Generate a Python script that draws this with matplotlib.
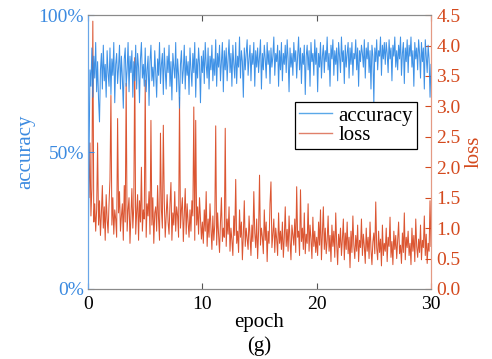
import numpy as np
import matplotlib
matplotlib.use("Agg")
import matplotlib.pyplot as plt
from matplotlib.lines import Line2D

# accuracy (%) per step, 12 steps per epoch
accuracy = [
    5, 48, 80, 74, 88, 70, 85, 77, 90, 72, 83, 69,
    61, 80, 86, 73, 89, 76, 82, 70, 87, 79, 74, 88,
    71, 84, 78, 90, 68, 82, 86, 75, 81, 89, 73, 85,
    77, 66, 84, 88, 74, 80, 90, 72, 85, 79, 87, 70,
    83, 76, 89, 73, 86, 81, 68, 84, 90, 77, 82, 74,
    88, 72, 80, 85, 67, 83, 89, 76, 81, 74, 87, 79,
    70, 84, 78, 90, 75, 82, 86, 71, 88, 80, 73, 85,
    79, 89, 74, 83, 69, 86, 81, 77, 90, 72, 84, 78,
    66, 82, 87, 75, 80, 89, 73, 85, 78, 83, 71, 88,
    80, 74, 86, 79, 90, 70, 84, 77, 88, 82, 68, 85,
    79, 87, 75, 90, 82, 77, 88, 73, 85, 80, 89, 76,
    84, 78, 91, 74, 86, 81, 89, 76, 83, 90, 72, 87,
    80, 88, 76, 84, 91, 79, 86, 74, 89, 82, 77, 90,
    75, 85, 81, 92, 77, 87, 83, 70, 88, 80, 86, 91,
    78, 84, 89, 76, 86, 82, 90, 74, 87, 81, 88, 79,
    85, 91, 73, 86, 80, 89, 84, 77, 90, 82, 87, 75,
    88, 81, 85, 92, 78, 86, 83, 89, 74, 87, 80, 90,
    76, 86, 82, 89, 79, 91, 84, 72, 88, 81, 86, 78,
    90, 83, 87, 77, 85, 92, 80, 88, 75, 86, 82, 89,
    71, 85, 89, 80, 87, 74, 90, 83, 86, 78, 91, 82,
    88, 72, 86, 81, 90, 77, 85, 89, 79, 87, 83, 92,
    80, 86, 74, 89, 84, 91, 78, 87, 82, 88, 76, 90,
    85, 79, 92, 83, 87, 75, 89, 81, 86, 90, 77, 88,
    82, 90, 78, 86, 84, 91, 80, 88, 74, 87, 83, 89,
    86, 81, 91, 77, 88, 84, 90, 79, 87, 73, 89, 85,
    68, 88, 83, 91, 80, 87, 85, 92, 78, 89, 84, 90,
    82, 90, 86, 79, 91, 84, 88, 76, 89, 85, 92, 81,
    87, 80, 89, 84, 92, 78, 86, 90, 75, 88, 83, 91,
    79, 89, 85, 92, 81, 87, 74, 90, 84, 88, 80, 91,
    86, 77, 90, 83, 88, 73, 91, 85, 79, 89, 84, 70,
    82,
]

# loss (x0.01) per step, 12 steps per epoch
loss_centi = [
    195, 150, 240, 120, 165, 440, 110, 140, 95, 130, 240, 105,
    145, 88, 125, 170, 100, 135, 80, 155, 115, 92, 140, 180,
    318, 105, 150, 90, 130, 115, 85, 280, 125, 160, 95, 120,
    140, 80, 170, 110, 338, 95, 130, 150, 75, 120, 165, 100,
    135, 380, 90, 125, 155, 80, 145, 110, 200, 95, 130, 115,
    343, 85, 140, 120, 160, 90, 277, 105, 150, 75, 125, 135,
    95, 170, 115, 80, 256, 130, 100, 269, 145, 85, 120, 155,
    110, 90, 140, 175, 80, 125, 105, 160, 95, 135, 120, 85,
    315, 100, 130, 150, 78, 120, 165, 90, 140, 110, 85, 130,
    95, 145, 120, 299, 80, 277, 105, 135, 90, 150, 115, 82,
    110, 75, 130, 95, 160, 70, 115, 85, 140, 100, 65, 120,
    80, 105, 268, 72, 125, 90, 60, 110, 150, 78, 100, 85,
    264, 70, 115, 90, 135, 62, 100, 80, 55, 120, 88, 180,
    75, 95, 60, 130, 85, 110, 48, 90, 145, 70, 100, 82,
    65, 120, 88, 55, 105, 78, 160, 92, 68, 115, 50, 95,
    187, 72, 100, 85, 58, 130, 80, 110, 45, 95, 75, 140,
    176, 68, 90, 115, 60, 100, 82, 55, 125, 75, 95, 65,
    110, 52, 85, 135, 70, 98, 62, 120, 80, 48, 105, 88,
    72, 115, 60, 168, 85, 95, 55, 163, 78, 100, 65, 125,
    58, 90, 75, 140, 62, 105, 82, 50, 118, 70, 95, 60,
    85, 55, 110, 72, 130, 48, 90, 135, 65, 100, 58, 80,
    120, 62, 88, 45, 105, 70, 95, 52, 125, 75, 40, 90,
    68, 100, 55, 82, 115, 48, 92, 65, 110, 58, 85, 35,
    95, 60, 120, 72, 50, 88, 62, 105, 45, 80, 68, 115,
    55, 90, 70, 42, 100, 62, 85, 50, 110, 65, 40, 78,
    92, 58, 143, 68, 48, 95, 60, 82, 38, 105, 55, 75,
    62, 100, 45, 85, 70, 118, 52, 78, 40, 95, 65, 88,
    50, 80, 110, 58, 72, 42, 92, 60, 125, 48, 85, 68,
    95, 55, 75, 40, 100, 62, 88, 45, 115, 70, 52, 82,
    60, 105, 48, 80, 68, 120, 55, 90, 42, 75, 62, 145,
    70,
]

steps_per_epoch = 12
x_ticks = [0, 10, 20, 30]
acc_ticks = [0, 50, 100]
acc_ticklabels = ["0%", "50%", "100%"]
loss_ticks = [0.0, 0.5, 1.0, 1.5, 2.0, 2.5, 3.0, 3.5, 4.0, 4.5]

acc = np.array(accuracy, dtype=float)
loss = np.array(loss_centi, dtype=float) / 100.0
epoch = np.arange(len(acc)) / steps_per_epoch

plt.rcParams['font.family'] = ['Liberation Serif', 'DejaVu Serif']

BLUE = "#2a86e4"
BLUE_TXT = "#3b8ae0"
RED = "#d8431c"
RED_TXT = "#d44a1e"

fig = plt.figure(figsize=(4.92, 3.59), dpi=100)
ax = fig.add_axes([0.179, 0.195, 0.697, 0.763])
ax2 = ax.twinx()

ax2.plot(epoch, loss, color=RED, lw=0.75, alpha=0.9)
ax.plot(epoch, acc, color=BLUE, lw=0.75, alpha=0.9)

ax.set_zorder(ax2.get_zorder() + 1)
ax.patch.set_visible(False)

ax.set_xlim(0, 30)
ax.set_ylim(0, 100)
ax2.set_ylim(0, 4.5)

ax.set_xticks(x_ticks)
ax.set_yticks(acc_ticks)
ax.set_yticklabels(acc_ticklabels)
ax2.set_yticks(loss_ticks)
ax2.set_yticklabels([f"{v:.1f}" for v in loss_ticks])

ax.tick_params(axis='x', direction='in', length=4, top=True, labelsize=14,
               color='#555555', pad=5)
ax.tick_params(axis='y', direction='in', length=4, labelsize=14,
               colors=BLUE_TXT, pad=3)
ax2.tick_params(axis='y', direction='in', length=4, labelsize=14,
                colors=RED_TXT, pad=4)

for a in (ax, ax2):
    a.spines['top'].set_color('#8a8a8a')
    a.spines['bottom'].set_color('#8a8a8a')
    a.spines['left'].set_color('#6aa6e8')
    a.spines['right'].set_color('#e49a84')
    for s in a.spines.values():
        s.set_linewidth(0.8)

ax.set_ylabel("accuracy", color=BLUE_TXT, fontsize=15, labelpad=2)
ax2.set_ylabel("loss", color=RED_TXT, fontsize=15, labelpad=3)
ax.set_xlabel("epoch", fontsize=15, labelpad=0)
fig.text(0.5 * (0.179 + 0.876), 0.037, "(g)", ha='center', va='center', fontsize=15)

handles = [Line2D([], [], color="#5aa8e8", lw=1.0),
           Line2D([], [], color="#e0806a", lw=1.0)]
leg = ax.legend(handles, ["accuracy", "loss"], loc='upper left',
                bbox_to_anchor=(0.603, 0.683), fontsize=15, frameon=True,
                fancybox=False, framealpha=1, edgecolor='black',
                handlelength=1.6, handletextpad=0.3, borderpad=0.2,
                labelspacing=0.0, borderaxespad=0)
leg.get_frame().set_linewidth(0.9)

fig.savefig("out.png", dpi=100)
